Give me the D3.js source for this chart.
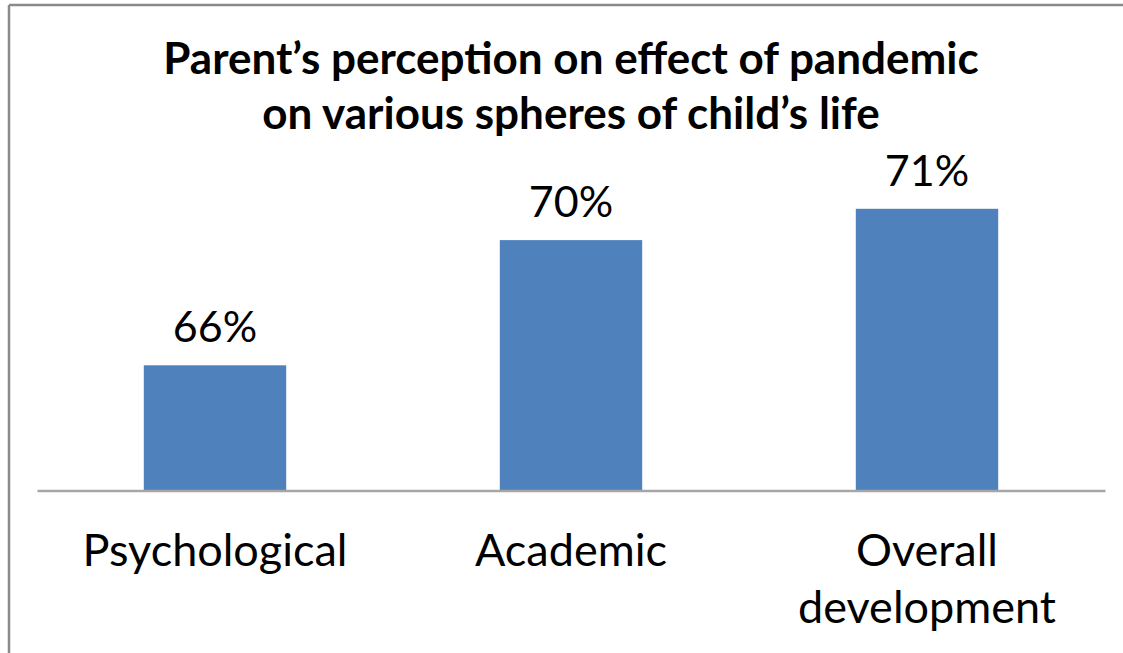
<!DOCTYPE html>
<html>
<head>
<meta charset="utf-8">
<script src="https://cdn.jsdelivr.net/npm/d3@7"></script>
<style>
  html, body { margin: 0; padding: 0; background: #fff; }
  svg { display: block; }
</style>
</head>
<body>
<svg id="chart" width="1123" height="653"></svg>
<script>
const categories = [["Psychological"], ["Academic"], ["Overall", "development"]];
const values = [66, 70, 71];
const valueLabels = ["66%", "70%", "71%"];
const titleLines = ["Parent\u2019s perception on effect of pandemic", "on various spheres of child\u2019s life"];
const yDomain = [62, 72];

(function () {
const svg = d3.select("#chart");
const W = 1123, H = 653;
const font = "Lato, 'Open Sans', sans-serif";

// outer frame (top and left edges visible)
svg.append("line").attr("x1", 9).attr("x2", W).attr("y1", 5).attr("y2", 5)
  .attr("stroke", "#8a8a8a").attr("stroke-width", 2.5);
svg.append("line").attr("x1", 9).attr("x2", 9).attr("y1", 5).attr("y2", H)
  .attr("stroke", "#8a8a8a").attr("stroke-width", 2.5);

const plotLeft = 37, plotRight = 1105, base = 490.5, plotTop = 177.5;
const keys = categories.map(c => c.join(" "));
const x = d3.scaleBand().domain(keys).range([plotLeft, plotRight]).paddingInner(0.6).paddingOuter(0.3);
const y = d3.scaleLinear().domain(yDomain).range([base, plotTop]);

const data = keys.map((k, i) => ({ key: k, lines: categories[i], value: values[i], label: valueLabels[i] }));

svg.append("g").selectAll("rect").data(data).join("rect")
  .attr("x", d => x(d.key))
  .attr("width", x.bandwidth())
  .attr("y", d => y(d.value))
  .attr("height", d => y(yDomain[0]) - y(d.value))
  .attr("fill", "#4f81bd");

// baseline axis
const xAxis = d3.axisBottom(x).tickSize(0).tickFormat("");
const axisG = svg.append("g").attr("transform", `translate(0,${base})`).call(xAxis);
axisG.select(".domain").attr("stroke", "#a6a6a6").attr("stroke-width", 2.5);

// value labels
svg.append("g").selectAll("text").data(data).join("text")
  .attr("x", d => x(d.key) + x.bandwidth() / 2)
  .attr("y", d => y(d.value) - 23)
  .attr("text-anchor", "middle")
  .attr("font-family", font).attr("font-size", 43)
  .attr("fill", "#000")
  .text(d => d.label);

// category labels
const cat = svg.append("g").selectAll("text").data(data).join("text")
  .attr("text-anchor", "middle")
  .attr("font-family", font).attr("font-size", 45)
  .attr("fill", "#000");
cat.each(function(d) {
  const t = d3.select(this);
  d.lines.forEach((ln, j) => {
    t.append("tspan").attr("x", x(d.key) + x.bandwidth() / 2).attr("y", 566 + j * 57).text(ln);
  });
});

// title
svg.append("g").selectAll("text").data(titleLines).join("text")
  .attr("x", (plotLeft + plotRight) / 2)
  .attr("y", (d, i) => 74 + i * 55)
  .attr("text-anchor", "middle")
  .attr("font-family", font).attr("font-weight", "bold").attr("font-size", 44)
  .attr("fill", "#000")
  .text(d => d);
})();
</script>
</body>
</html>
